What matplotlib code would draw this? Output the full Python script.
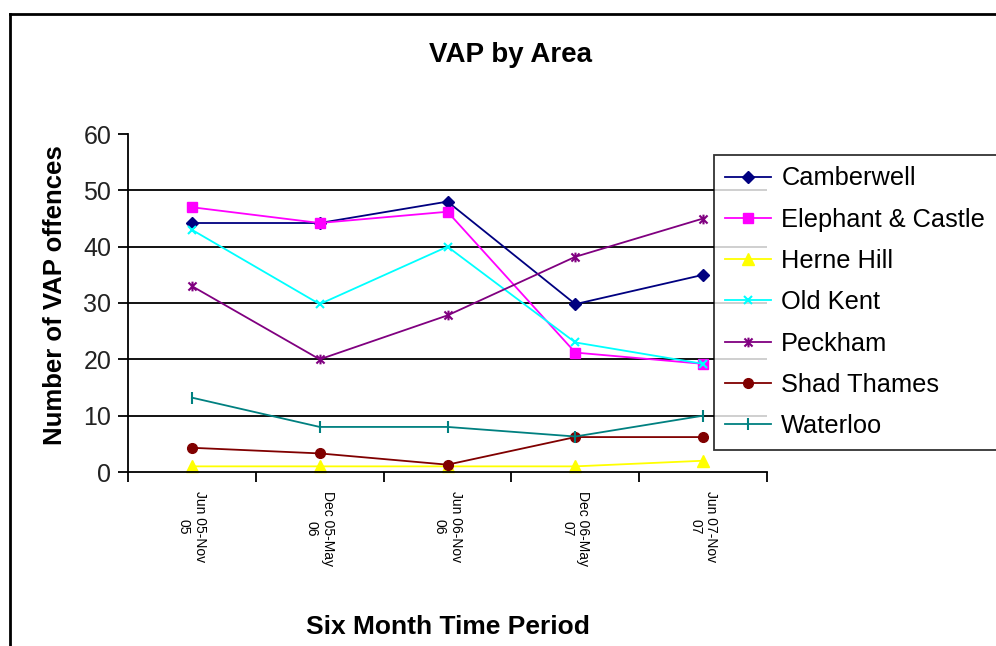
import matplotlib
matplotlib.use("Agg")
import matplotlib.pyplot as plt
from matplotlib.path import Path

plt.rcParams['font.family'] = ['Liberation Sans', 'DejaVu Sans']

periods = ["Jun 05-Nov\n05", "Dec 05-May\n06", "Jun 06-Nov\n06", "Dec 06-May\n07", "Jun 07-Nov\n07"]

camberwell = [44.2, 44.2, 48.0, 29.8, 35.0]
elephant = [47.0, 44.2, 46.2, 21.2, 19.2]
herne_hill = [1.0, 1.0, 1.0, 1.0, 2.0]
old_kent = [43.0, 29.8, 40.0, 23.0, 19.2]
peckham = [33.0, 20.0, 27.8, 38.2, 45.0]
shad_thames = [4.3, 3.3, 1.3, 6.2, 6.2]
waterloo = [13.2, 8.0, 8.0, 6.3, 10.0]

# Excel style "star": an x with a vertical bar through it
star = Path([(-1, -1), (1, 1), (-1, 1), (1, -1), (0, -1.2), (0, 1.2)],
            [Path.MOVETO, Path.LINETO, Path.MOVETO, Path.LINETO, Path.MOVETO, Path.LINETO])

series = [
    ("Camberwell", camberwell, "#000080", "D", 6),
    ("Elephant & Castle", elephant, "#FF00FF", "s", 7),
    ("Herne Hill", herne_hill, "#FFFF00", "^", 8),
    ("Old Kent", old_kent, "#00FFFF", "x", 6),
    ("Peckham", peckham, "#800080", star, 7),
    ("Shad Thames", shad_thames, "#800000", "o", 7),
    ("Waterloo", waterloo, "#008080", "|", 8),
]

fig = plt.figure(figsize=(9.96, 6.46), dpi=100)

# outer chart border (left + top visible)
fig.add_artist(plt.Line2D([10/996, 10/996], [0, 1 - 14/646], transform=fig.transFigure, color="black", lw=2))
fig.add_artist(plt.Line2D([10/996, 1], [1 - 14/646, 1 - 14/646], transform=fig.transFigure, color="black", lw=2))

ax = fig.add_axes([128/996, 1 - 472/646, 639/996, 338/646])
x = range(len(periods))
for name, vals, color, marker, ms in series:
    ax.plot(x, vals, color=color, marker=marker, markersize=ms, lw=1.3,
            markeredgewidth=1.5 if name in ("Old Kent", "Peckham", "Waterloo") else 1,
            label=name, clip_on=False)

ax.set_xlim(-0.5, len(periods) - 0.5)
ax.set_ylim(0, 60)
ax.set_yticks(range(0, 61, 10))
for v in range(10, 60, 10):
    ax.axhline(v, color="black", lw=1.3, zorder=0)

for s in ["top", "right"]:
    ax.spines[s].set_visible(False)
ax.spines["left"].set_linewidth(1.3)
ax.spines["bottom"].set_linewidth(1.3)

ax.set_xticks([i - 0.5 for i in range(len(periods) + 1)], minor=False)
ax.set_xticklabels([])
ax.set_xticks(list(x), minor=True)
ax.set_xticklabels(periods, minor=True, rotation=270, fontsize=10, va="top", ha="center")
ax.tick_params(axis="x", which="minor", length=0, pad=14)
ax.tick_params(axis="x", which="major", length=7, width=1.3, direction="out")
ax.tick_params(axis="y", length=7, width=1.3, direction="out", labelsize=18, pad=5)
for lbl in ax.get_yticklabels():
    lbl.set_color("#222222")

fig.text(510/996, 1 - 55/646, "VAP by Area", ha="center", va="center", fontsize=20, fontweight="bold")
fig.text(448/996, 1 - 627/646, "Six Month Time Period", ha="center", va="center", fontsize=19, fontweight="bold")
fig.text(55/996, 1 - 295/646, "Number of VAP offences", ha="center", va="center", rotation=90, fontsize=18.5, fontweight="bold")

leg = fig.legend(loc="upper left", bbox_to_anchor=(714/996, 1 - 155/646), fontsize=18.3,
                 frameon=True, fancybox=False, edgecolor="black", borderaxespad=0,
                 handlelength=1.8, handletextpad=0.4, labelspacing=0.68, borderpad=0.45)
leg.get_frame().set_linewidth(1.3)

fig.savefig("out.png", dpi=100)
